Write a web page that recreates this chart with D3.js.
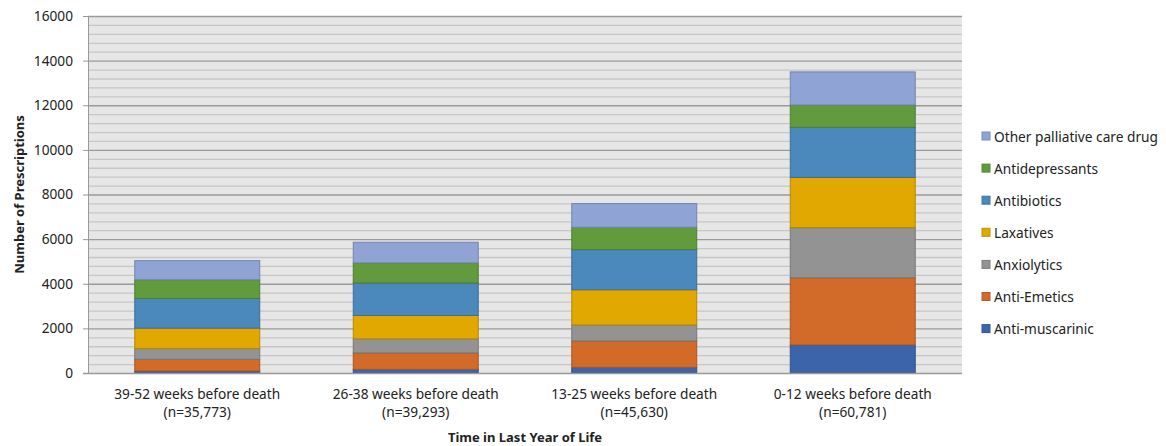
<!DOCTYPE html>
<html>
<head>
<meta charset="utf-8">
<script src="https://cdn.jsdelivr.net/npm/d3@7"></script>
<style>
  body { margin: 0; background: #fff; }
  svg text { font-family: "Noto Sans", sans-serif; fill: #222; }
</style>
</head>
<body>
<div id="chart"></div>
<script>
// data
const periods = ["39-52 weeks before death", "26-38 weeks before death", "13-25 weeks before death", "0-12 weeks before death"];
const cohortSizes = ["(n=35,773)", "(n=39,293)", "(n=45,630)", "(n=60,781)"];
const drugGroups = ["Anti-muscarinic", "Anti-Emetics", "Anxiolytics", "Laxatives", "Antibiotics", "Antidepressants", "Other palliative care drug"];
const antiMuscarinic = [90, 165, 255, 1260];
const antiEmetics = [525, 735, 1180, 3010];
const anxiolytics = [480, 630, 720, 2245];
const laxatives = [915, 1050, 1575, 2250];
const antibiotics = [1330, 1455, 1800, 2245];
const antidepressants = [840, 900, 1000, 1000];
const otherDrugs = [855, 925, 1065, 1485];
const yTicks = [0, 2000, 4000, 6000, 8000, 10000, 12000, 14000, 16000];

const colors = ["#3c64ab", "#d26b29", "#939393", "#e0a800", "#4b88bc", "#629b3e", "#8fa3d5"];

const seriesValues = [antiMuscarinic, antiEmetics, anxiolytics, laxatives, antibiotics, antidepressants, otherDrugs];
const table = periods.map((p, i) => {
  const row = {period: p};
  drugGroups.forEach((g, j) => row[g] = seriesValues[j][i]);
  return row;
});

const W = 1166, H = 446;
const margin = {top: 16, right: 204, bottom: 73, left: 88};
const width = W - margin.left - margin.right,
  height = H - margin.top - margin.bottom;

const svg = d3.select("#chart").append("svg")
  .attr("width", W).attr("height", H);

const plot = svg.append("g")
  .attr("transform", "translate(" + margin.left + "," + margin.top + ")");

const x = d3.scaleBand().domain(periods).range([0, width]).paddingInner(0.428).paddingOuter(0.214);
const y = d3.scaleLinear().domain([0, 16000]).range([height, 0]);

// plot background
plot.append("rect")
  .attr("width", width).attr("height", height)
  .attr("fill", "#e6e6e6");

// minor grid every 400
plot.append("g").selectAll("line")
  .data(d3.range(400, 16001, 400).filter(v => v % 2000 !== 0))
  .join("line")
  .attr("x1", 0).attr("x2", width)
  .attr("y1", d => y(d) + 0.5).attr("y2", d => y(d) + 0.5)
  .attr("stroke", "#c6c6c6").attr("stroke-width", 1.3);

// major grid
plot.append("g").selectAll("line")
  .data(yTicks.filter(v => v > 0))
  .join("line")
  .attr("x1", 0).attr("x2", width)
  .attr("y1", d => y(d) + 0.5).attr("y2", d => y(d) + 0.5)
  .attr("stroke", "#9a9a9a").attr("stroke-width", 1.3);

// stacked bars
const stack = d3.stack().keys(drugGroups);
const layers = stack(table);

plot.append("g").selectAll("g")
  .data(layers)
  .join("g")
  .attr("fill", (d, i) => colors[i])
  .attr("stroke", (d, i) => d3.color(colors[i]).darker(0.6))
  .attr("stroke-width", 1)
  .selectAll("rect")
  .data(d => d)
  .join("rect")
  .attr("x", d => x(d.data.period))
  .attr("width", x.bandwidth())
  .attr("y", d => y(d[1]))
  .attr("height", d => y(d[0]) - y(d[1]));

// y axis
const yAxis = d3.axisLeft(y).tickValues(yTicks).tickSize(5).tickPadding(10).tickFormat(d3.format("d"));
const gy = plot.append("g").call(yAxis);
gy.select(".domain").attr("stroke", "#999").attr("d", "M0.5," + height + "V0");
gy.selectAll(".tick line").attr("stroke", "#999");
gy.selectAll("text").style("font-size", "13.7px").attr("fill", "#222");

// x axis baseline
plot.append("line")
  .attr("x1", -5).attr("x2", width)
  .attr("y1", height + 0.5).attr("y2", height + 0.5)
  .attr("stroke", "#999").attr("stroke-width", 1.5);

// category labels (two lines)
const xl = plot.append("g").selectAll("text")
  .data(periods)
  .join("text")
  .attr("x", d => x(d) + x.bandwidth() / 2)
  .attr("y", height + 26)
  .attr("text-anchor", "middle")
  .style("font-size", "13.7px");
xl.append("tspan").text(d => d);
xl.append("tspan")
  .attr("x", d => x(d) + x.bandwidth() / 2)
  .attr("dy", 18)
  .text((d, i) => cohortSizes[i]);

// axis titles
svg.append("text")
  .attr("x", margin.left + width / 2)
  .attr("y", 442)
  .attr("text-anchor", "middle")
  .style("font-size", "13px").style("font-weight", "bold")
  .text("Time in Last Year of Life");

svg.append("text")
  .attr("transform", "translate(24," + (margin.top + height / 2) + ") rotate(-90)")
  .attr("text-anchor", "middle")
  .style("font-size", "13px").style("font-weight", "bold")
  .text("Number of Prescriptions");

// legend, top item is the top of the stack
const legendItems = drugGroups.slice().reverse();
const legend = svg.append("g").selectAll("g")
  .data(legendItems)
  .join("g")
  .attr("transform", (d, i) => "translate(982," + (137 + i * 32.1) + ")");
legend.append("rect")
  .attr("x", 0).attr("y", -5).attr("width", 8).attr("height", 8)
  .attr("fill", d => colors[drugGroups.indexOf(d)])
  .attr("stroke", d => d3.color(colors[drugGroups.indexOf(d)]).darker(0.4));
legend.append("text")
  .attr("x", 12).attr("dy", "0.35em")
  .style("font-size", "13.7px")
  .text(d => d);
</script>
</body>
</html>
